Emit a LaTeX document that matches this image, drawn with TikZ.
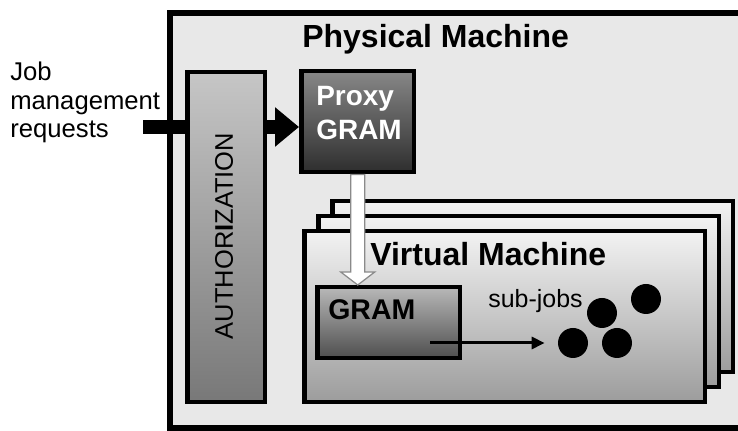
\documentclass[tikz,border=0pt]{standalone}
\usepackage{fontspec}
\setmainfont{Liberation Sans}
\usepackage{tikz}
\usetikzlibrary{arrows.meta,calc}
\definecolor{Paper}{HTML}{E8E8E8}
\definecolor{AuthLight}{HTML}{C6C6C6}
\definecolor{AuthDark}{HTML}{787878}
\definecolor{ProxyLight}{HTML}{878787}
\definecolor{ProxyDark}{HTML}{2E2E2E}
\definecolor{GramLight}{HTML}{B8B8B8}
\definecolor{GramDark}{HTML}{4E4E4E}
\definecolor{VmLight}{HTML}{F2F2F2}
\definecolor{VmDark}{HTML}{9C9C9C}
\definecolor{Rim}{HTML}{8A8A8A}

\begin{document}
\begin{tikzpicture}[x=0.02cm,y=-0.02cm,
  box/.style={draw=black,line width=0.9mm,inner sep=0pt,anchor=north west,shading=axis,shading angle=45},
  authbox/.style={box,top color=AuthLight,bottom color=AuthDark},
  proxybox/.style={box,top color=ProxyLight,bottom color=ProxyDark},
  vmbox/.style={box,top color=VmLight,bottom color=VmDark,minimum width=8.02cm,minimum height=3.42cm},
  grambox/.style={box,top color=GramLight,bottom color=GramDark},
  title/.style={font=\fontsize{18.2}{21}\selectfont\bfseries,inner sep=0pt,anchor=base west},
  plain/.style={font=\fontsize{14.6}{16.2}\selectfont,inner sep=0pt,align=left},
  job/.style={circle,fill=black,minimum size=0.6cm,inner sep=0pt},
  bigarrow/.style={-{Triangle[length=4.8mm,width=7.6mm]},line width=2.8mm},
  smallarrow/.style={-{Triangle[length=2.6mm,width=2.4mm]},line width=0.6mm},
  hollow/.style={fill=white,draw=Rim,line width=0.25mm,line join=miter}
]
\useasboundingbox (0,0) rectangle (738,431);
\clip (0,0) rectangle (738,431);
\draw[line width=1.2mm,fill=Paper] (170,13) rectangle (760,428);
\node[title] (phys) at (302,48) {Physical Machine};

\node[plain,anchor=north west] (req) at (10,62) {Job\\management\\requests};
\coordinate (reqin) at (143,127);

\node[proxybox,minimum width=2.26cm,minimum height=2.02cm] (proxy) at (299,69) {};
\node[font=\fontsize{15.9}{19.3}\selectfont\bfseries,text=white,inner sep=0pt,align=left,anchor=north west] (proxylbl) at (316,86) {Proxy\\GRAM};
\draw[bigarrow] (reqin) -- (proxy.west |- reqin);

\node[authbox,minimum width=1.56cm,minimum height=6.6cm] (auth) at (185,70) {};
\node[font=\fontsize{14.5}{16}\selectfont,rotate=90,inner sep=0pt] (authlbl) at (224,236) {AUTHOR\textbf{I}ZATION};

\node[vmbox] (vm3) at (330,199) {};
\node[vmbox] (vm2) at (316,214) {};
\node[vmbox] (vm1) at (302,229) {};
\node[title] (virt) at (370,266) {Virtual Machine};

\node[grambox,minimum width=2.86cm,minimum height=1.42cm] (gram) at (315,285) {};
\node[title,font=\fontsize{16.2}{19}\selectfont\bfseries] (gramlbl) at (328,320) {GRAM};

\coordinate (wa) at (proxy.south);
\coordinate (wb) at (wa |- gram.north);
\draw[hollow] ($(wa)+(-7,0)$) -- ($(wb)+(-7,-13)$) -- ($(wb)+(-17,-13)$) -- (wb)
  -- ($(wb)+(17,-13)$) -- ($(wb)+(7,-13)$) -- ($(wa)+(7,0)$) -- cycle;

\node[plain,font=\fontsize{14.2}{16}\selectfont,anchor=base west] (sub) at (488,308) {sub-jobs};
\node[job] (j1) at (602,313) {};
\node[job] (j2) at (646,299) {};
\node[job] (j3) at (573,343) {};
\node[job] (j4) at (617,343) {};
\coordinate (gout) at (430,343);
\draw[smallarrow,shorten >=0.26cm] (gout) -- (j3.west);
\end{tikzpicture}
\end{document}
